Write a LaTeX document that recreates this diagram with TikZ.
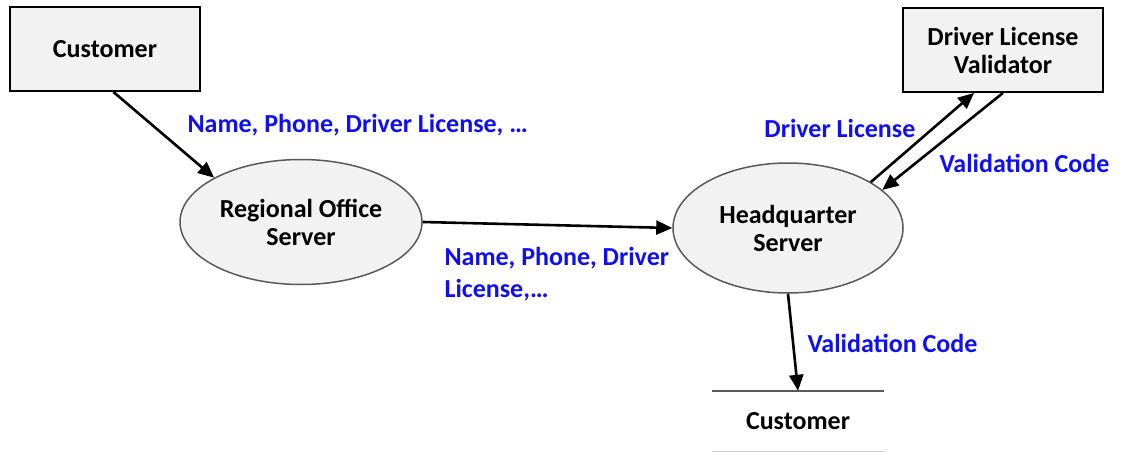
\documentclass[tikz,border=0pt]{standalone}
\usepackage{fontspec}
\setmainfont{Carlito}
\usepackage{xcolor}
\usetikzlibrary{positioning, arrows.meta, shapes.geometric, calc}

\definecolor{flowblue}{RGB}{15,15,245}
\definecolor{boxgray}{RGB}{242,242,242}

\begin{document}
\begin{tikzpicture}[
    x=1pt, y=-1pt,
    every node/.style={font=\fontsize{26}{28}\selectfont\bfseries},
    entity/.style={
        rectangle,
        draw=black,
        line width=1.8pt,
        fill=boxgray,
        align=center,
        minimum width=190pt,
        minimum height=84pt
    },
    process/.style={
        ellipse,
        draw=black!65,
        line width=1.5pt,
        fill=boxgray,
        align=center,
        inner sep=0pt,
        minimum width=242pt,
        minimum height=125pt
    },
    store/.style={minimum width=171pt, minimum height=60pt},
    flow/.style={text=flowblue, align=left, anchor=west},
    arrow/.style={-{Triangle[length=16pt, width=14pt]}, line width=2.6pt}
]
\useasboundingbox (0,0) rectangle (1121,452);

\node[entity] (cust) at (105,49) {Customer};
\node[process] (reg) at (301,222) {Regional Office\\Server};
\node[process, minimum width=230pt, minimum height=130pt] (hq) at (788,228) {Headquarter\\Server};
\node[entity, minimum width=200pt] (val) at (1003,50) {Driver License\\Validator};
\node[store] (store) at (798,421) {Customer};

% data store lines
\draw[line width=1.5pt, black!65] (store.north west) -- (store.north east);
\draw[line width=1.2pt, black!20] (store.south west) -- (store.south east);

% flows
\draw[arrow] (cust.-79) -- (reg.153);
\draw[arrow] (reg.east) -- (hq.west);
\draw[arrow] (hq.29) -- (val.-124);
\draw[arrow] (val.south) -- (hq.22);
\draw[arrow] (hq.south) -- (store.north);

% flow labels
\node[flow] (lname) at (184,125) {Name, Phone, Driver License, …};
\node[flow, font=\fontsize{26}{32}\selectfont\bfseries] (lname2) at (441,274) {Name, Phone, Driver\\License,…};
\node[flow, anchor=east] (llic) at (919,128) {Driver License};
\node[flow] (lcode) at (936,163) {Validation Code};
\node[flow] (lcode2) at (804,343) {Validation Code};

\end{tikzpicture}
\end{document}
